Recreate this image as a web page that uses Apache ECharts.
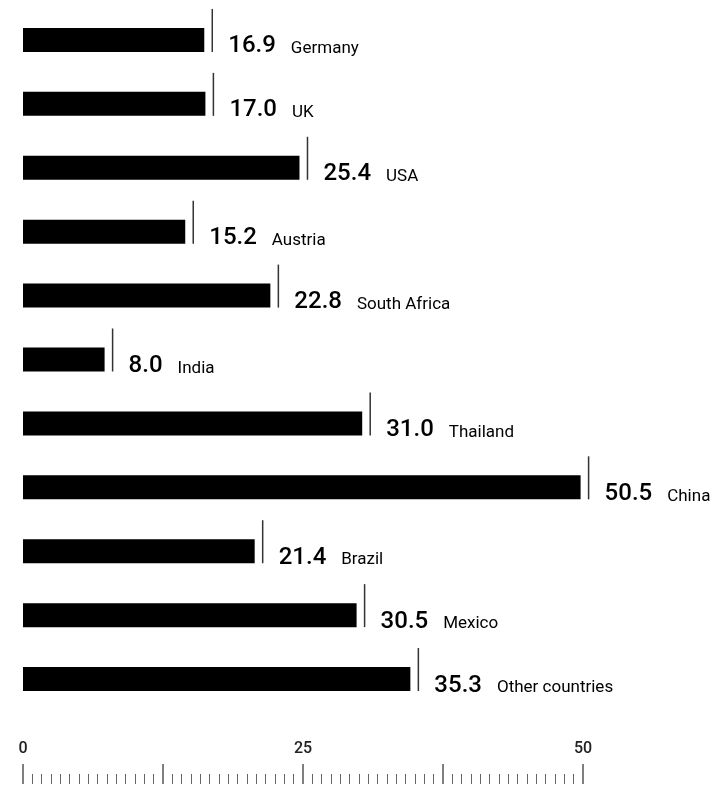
<!DOCTYPE html>
<html>
<head>
<meta charset="utf-8">
<script src="https://cdn.jsdelivr.net/npm/echarts@6/dist/echarts.min.js"></script>
<style>
  html, body { margin: 0; padding: 0; background: #fff; }
  #main { width: 717px; height: 790px; }
</style>
</head>
<body>
<div id="main"></div>
<script>
// data
var countries = ['Germany', 'UK', 'USA', 'Austria', 'South Africa', 'India',
  'Thailand', 'China', 'Brazil', 'Mexico', 'Other countries'];
var values = [16.9, 17.0, 25.4, 15.2, 22.8, 8.0, 31.0, 50.5, 21.4, 30.5, 35.3];
var tickLabels = ['0', '25', '50'];

var chart = echarts.init(document.getElementById('main'));

// bar stops a little short of the value, thin line marks the value itself
function renderItem(params, api) {
  var v = api.value(0);
  var p0 = api.coord([0, api.value(1)]);
  var p1 = api.coord([v, api.value(1)]);
  var cy = p0[1];
  return {
    type: 'group',
    children: [
      {
        type: 'rect',
        shape: { x: p0[0], y: cy - 12, width: p1[0] - p0[0] - 8, height: 24 },
        style: { fill: '#000' }
      },
      {
        type: 'line',
        shape: { x1: p1[0], y1: cy - 31, x2: p1[0], y2: cy + 12 },
        style: { stroke: '#333', lineWidth: 1.5 }
      },
      {
        type: 'text',
        x: p1[0] + 16,
        y: cy + 18.5,
        style: {
          text: '{v|' + v.toFixed(1) + '}{n|' + countries[params.dataIndex] + '}',
          verticalAlign: 'bottom',
          rich: {
            v: { fontFamily: 'Roboto', fontSize: 24, fontWeight: 500, lineHeight: 24, color: '#111', verticalAlign: 'bottom' },
            n: { fontFamily: 'Roboto', fontSize: 17, lineHeight: 17, color: '#222', verticalAlign: 'bottom',
                 padding: [0, 0, 1, 15] }
          }
        }
      }
    ]
  };
}

var option = {
  animation: false,
  grid: [
    { left: 23, right: 134, top: 8, bottom: 79 },
    { left: 23, right: 134, top: 740, bottom: 6 }
  ],
  xAxis: [
    { gridIndex: 0, type: 'value', min: 0, max: 50, show: false },
    {
      gridIndex: 1, type: 'value', min: 0, max: 50, interval: 12.5,
      position: 'bottom',
      axisLine: { show: false },
      splitLine: { show: false },
      axisTick: { show: true, inside: true, length: 20, lineStyle: { color: '#555', width: 1.5 } },
      minorTick: { show: true, splitNumber: 15, length: 10, lineStyle: { color: '#666', width: 1 } },
      axisLabel: {
        inside: true, margin: 27,
        fontFamily: 'Roboto', fontSize: 16, fontWeight: 500, color: '#222',
        formatter: function (val) {
          return tickLabels.indexOf(String(val)) >= 0 ? String(val) : '';
        }
      }
    }
  ],
  yAxis: [
    { gridIndex: 0, type: 'category', data: countries, inverse: true, show: false },
    { gridIndex: 1, type: 'value', show: false }
  ],
  series: [{
    type: 'custom',
    xAxisIndex: 0,
    yAxisIndex: 0,
    renderItem: renderItem,
    encode: { x: 0, y: 1 },
    data: values.map(function (v, i) { return [v, i]; })
  }]
};
chart.setOption(option);
</script>
</body>
</html>
